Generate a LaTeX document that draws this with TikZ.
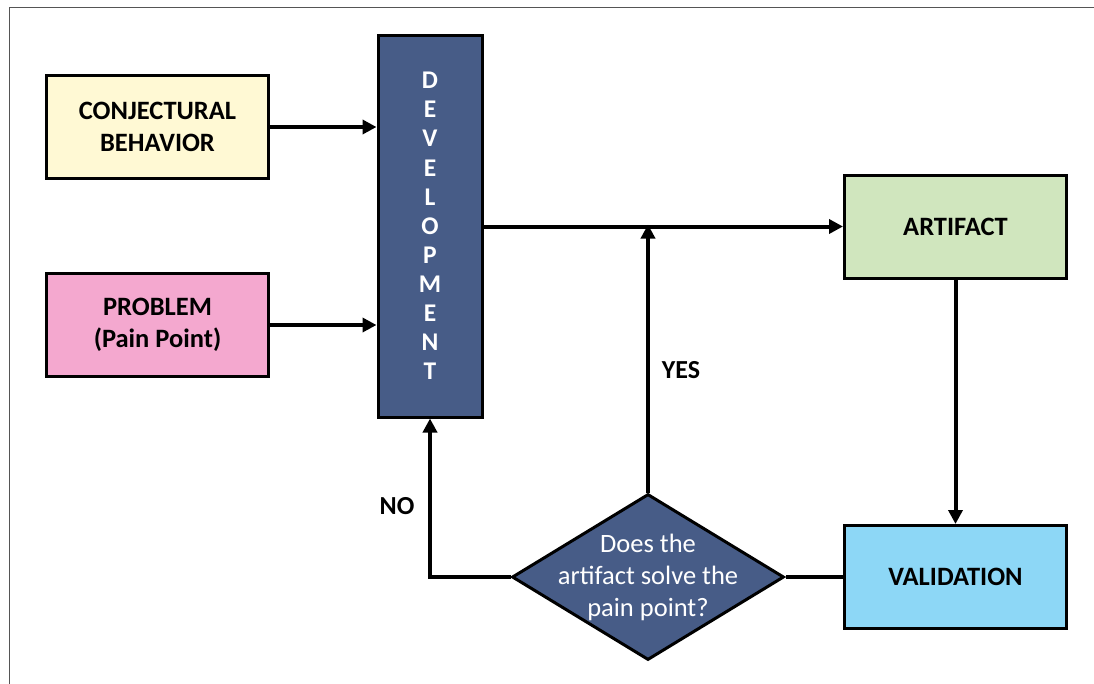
\documentclass[tikz,border=0pt]{standalone}
\usepackage{fontspec}
\setmainfont{Carlito}
\usetikzlibrary{arrows.meta,shapes.geometric}
\definecolor{cyellow}{HTML}{FFF9D4}
\definecolor{cpink}{HTML}{F4A8CF}
\definecolor{cdev}{HTML}{475C87}
\definecolor{cgreen}{HTML}{D0E6BE}
\definecolor{cblue}{HTML}{8DD7F6}
\definecolor{cframe}{HTML}{555555}
\tikzset{
  box/.style={draw=black, line width=3pt, minimum width=222pt, minimum height=103pt, inner sep=0pt, align=center, font=\fontsize{26.5}{32}\selectfont\bfseries},
  arr/.style={line width=4pt, -{Triangle[length=14pt,width=14pt]}},
  conn/.style={line width=4pt},
  lbl/.style={font=\fontsize{26}{30}\selectfont\bfseries, inner sep=0pt},
}
\begin{document}
\begin{tikzpicture}[x=1pt,y=-1pt]
\useasboundingbox (0,0) rectangle (1094,683);
\draw[cframe, line width=1.5pt] (9.3,690) -- (9.3,7.7) -- (1100,7.7);

\node[box, fill=cyellow] (cb) at (157.5,127) {CONJECTURAL\\BEHAVIOR};
\node[box, fill=cpink] (pb) at (157.5,325) {PROBLEM\\(Pain Point)};
\node[box, fill=cdev, minimum width=104pt, minimum height=382pt, text=white,
      font=\fontsize{25.5}{29.1}\selectfont\bfseries] (dev) at (430,226)
      {D\\E\\V\\E\\L\\O\\P\\M\\E\\N\\T};
\node[box, fill=cgreen] (art) at (955.5,226.5) {ARTIFACT};
\node[box, fill=cblue] (val) at (955.5,577) {VALIDATION};
\node[diamond, draw=black, line width=3pt, fill=cdev, minimum width=272pt, minimum height=166pt, inner sep=0pt] (q) at (648,577) {};
\node[text=white, align=center, font=\fontsize{26.5}{32}\selectfont, inner sep=0pt] (qt) at (q) {Does the\\artifact solve the\\pain point?};

\draw[arr] (cb.east) -- (cb.east -| dev.west);
\draw[arr] (pb.east) -- (pb.east -| dev.west);
\draw[arr] (dev.east |- art.west) -- (art.west);
\draw[arr] (q.north) -- ([yshift=2pt]q.north |- art.west);
\draw[arr] (art.south) -- (val.north);
\draw[conn] (val.west) -- (val.west -| q.east);
\draw[arr] (q.west) -| (dev.south);

\node[lbl] (yes) at (681,370) {YES};
\node[lbl] (no) at (397,506) {NO};
\end{tikzpicture}
\end{document}
